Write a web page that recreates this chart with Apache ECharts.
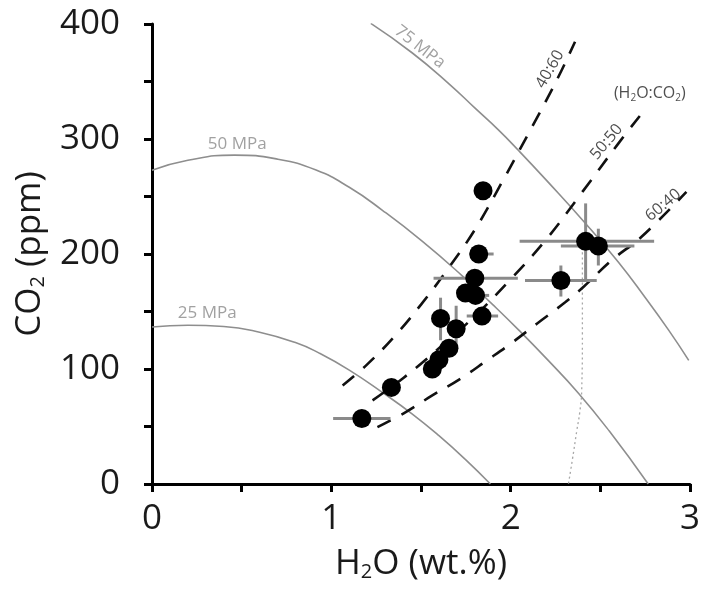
<!DOCTYPE html>
<html>
<head>
<meta charset="utf-8">
<title>CO2 vs H2O</title>
<script src="https://cdn.jsdelivr.net/npm/echarts@6/dist/echarts.min.js"></script>
<style>
  html, body { margin: 0; padding: 0; background: #fff; }
  #chart { width: 703px; height: 592px; }
</style>
</head>
<body>
<div id="chart"></div>
<script>
// Melt inclusion measurements: H2O (wt.%) and CO2 (ppm)
const h2o = [1.17, 1.335, 1.563, 1.60, 1.656, 1.609, 1.696, 1.748, 1.804, 1.80, 1.84, 1.822, 1.846, 2.28, 2.418, 2.489];
const co2 = [57, 84, 100, 108, 118, 144, 135, 166, 164, 179, 146, 200, 255, 177, 211, 207];
// Uncertainty ranges (null where no bar is drawn)
const h2oLow  = [1.01, null, null, null, null, 1.57, null, null, 1.74, 1.57, 1.755, 1.77, null, 2.08, 2.05, 2.28];
const h2oHigh = [1.33, null, null, null, null, 1.65, null, null, 1.88, 2.04, 1.93, 1.905, null, 2.48, 2.80, 2.69];
const co2Low  = [null, null, null, null, null, 125, 116, null, null, null, null, null, null, 163, 176, 190];
const co2High = [null, null, null, null, null, 162, 155, null, null, null, null, null, null, 190, 244, 222];

// Isobars (saturation pressure curves)
const iso25x = [0, 0.2, 0.4, 0.6, 0.8, 0.93, 1.1, 1.29, 1.45, 1.6, 1.75, 1.887];
const iso25y = [136.5, 138, 137, 132, 123, 114, 99, 79, 61, 42, 21, 0];
const iso50x = [0, 0.2, 0.46, 0.7, 0.915, 1.1, 1.285, 1.508, 1.73, 1.9, 2.044, 2.2, 2.378, 2.55, 2.767];
const iso50y = [272.8, 281.5, 286, 282.5, 273, 258, 238, 211, 181, 156, 134, 109, 79, 46, 0];
const iso75x = [1.22, 1.45, 1.656, 1.8, 1.933, 2.044, 2.2, 2.415, 2.6, 2.748, 2.88, 2.993];
const iso75y = [400.5, 375, 348, 327, 307.7, 290, 264, 227, 193, 162.6, 134, 107.5];

// Fluid composition isopleths (H2O:CO2)
const iso4060x = [1.063, 1.2, 1.35, 1.5, 1.65, 1.8, 1.95, 2.1, 2.25, 2.359];
const iso4060y = [85.7, 104, 128, 156, 187, 221, 262, 305, 349, 384.5];
const iso5050x = [1.23, 1.4, 1.6, 1.8, 2.0, 2.2, 2.4, 2.6, 2.72];
const iso5050y = [72.7, 92, 118, 146, 178, 213, 254, 296, 320];
const iso6040x = [1.257, 1.415, 1.563, 1.72, 1.868, 2.0, 2.146, 2.304, 2.41, 2.563, 2.73, 2.98];
const iso6040y = [49.4, 62.5, 77, 91.5, 107.5, 122, 139.4, 158, 172, 194.5, 215, 254];

// Dotted trend below the high-H2O group
const trendX = [2.40, 2.40, 2.40, 2.396, 2.385, 2.369, 2.345, 2.322];
const trendY = [210, 175, 130, 81, 62, 46.6, 22, 0];

// Tick values
const xTicks = [0, 1, 2, 3];
const yTicks = [0, 100, 200, 300, 400];

// Curve labels
const noteText = ['75 MPa', '50 MPa', '25 MPa', '40:60', '50:50', '60:40', '(H{s|2}O:CO{s|2})'];
const noteX = [1.494, 0.475, 0.308, 2.219, 2.535, 2.85, 2.776];
const noteY = [380, 295.5, 148.8, 360.7, 297.5, 242.4, 339.9];
const noteAngle = [-38, 0, 0, 60, 50, 40, 0];
const noteKind = ['isobar', 'isobar', 'isobar', 'ratio', 'ratio', 'ratio', 'ratio'];

const FONT = 'Open Sans';
const zip = (xs, ys) => xs.map((x, i) => [x, ys[i]]);

const chart = echarts.init(document.getElementById('chart'), null, { renderer: 'canvas' });

function curve(name, xs, ys, style, smooth) {
  return {
    name, type: 'line', data: zip(xs, ys), smooth: smooth, showSymbol: false,
    symbol: 'none', silent: true, z: style.z, lineStyle: style.line, animation: false
  };
}

const isobarStyle = { z: 1, line: { color: '#8e8e8e', width: 1.6 } };
const ratioStyle = { z: 2, line: { color: '#111', width: 2.6, type: [15, 12] } };
const trendStyle = { z: 1, line: { color: '#a8a8a8', width: 1.3, type: [2, 3] } };

const errorBars = {
  type: 'custom',
  z: 3,
  silent: true,
  animation: false,
  data: zip(h2o, co2),
  renderItem(params, api) {
    const i = params.dataIndex;
    const x = api.value(0), y = api.value(1);
    const kids = [];
    const st = { stroke: '#8a8a8a', lineWidth: 3 };
    if (h2oLow[i] != null) {
      const a = api.coord([h2oLow[i], y]), b = api.coord([h2oHigh[i], y]);
      kids.push({ type: 'line', shape: { x1: a[0], y1: a[1], x2: b[0], y2: b[1] }, style: st });
    }
    if (co2Low[i] != null) {
      const a = api.coord([x, co2Low[i]]), b = api.coord([x, co2High[i]]);
      kids.push({ type: 'line', shape: { x1: a[0], y1: a[1], x2: b[0], y2: b[1] }, style: st });
    }
    return { type: 'group', children: kids };
  }
};

const notes = {
  type: 'scatter',
  z: 5,
  silent: true,
  animation: false,
  symbolSize: 0,
  data: noteText.map((t, i) => ({
    value: [noteX[i], noteY[i]],
    label: {
      show: true,
      position: 'inside',
      formatter: t,
      rotate: noteAngle[i],
      fontFamily: FONT,
      fontSize: noteKind[i] === 'isobar' ? 17 : 16,
      color: noteKind[i] === 'isobar' ? '#8a8a8a' : '#222',
      rich: { s: { fontSize: 10, fontFamily: FONT, color: '#222', padding: [10, 0, 0, 0] } }
    }
  }))
};

const option = {
  backgroundColor: '#fff',
  animation: false,
  grid: { left: 152, right: 11, top: 24, bottom: 108, containLabel: false },
  xAxis: {
    type: 'value', min: 0, max: 3, interval: 0.5,
    name: 'H{sub|2}O (wt.%)', nameLocation: 'middle', nameGap: 62,
    nameTextStyle: {
      fontFamily: FONT, fontSize: 35, color: '#1a1a1a',
      rich: { sub: { fontFamily: FONT, fontSize: 20, color: '#1a1a1a', padding: [16, 0, 0, 0] } }
    },
    axisLine: { show: true, onZero: false, lineStyle: { color: '#000', width: 3 } },
    axisTick: { show: true, inside: false, length: 8, lineStyle: { color: '#000', width: 3 } },
    axisLabel: {
      margin: 18, fontFamily: FONT, fontSize: 35, color: '#1a1a1a',
      formatter: v => (xTicks.indexOf(v) >= 0 ? String(v) : '')
    },
    splitLine: { show: false }
  },
  yAxis: {
    type: 'value', min: 0, max: 400, interval: 50,
    name: 'CO{sub|2} (ppm)', nameLocation: 'middle', nameGap: 104, nameRotate: 90,
    nameTextStyle: {
      fontFamily: FONT, fontSize: 35, color: '#1a1a1a',
      rich: { sub: { fontFamily: FONT, fontSize: 20, color: '#1a1a1a', padding: [16, 0, 0, 0] } }
    },
    axisLine: { show: true, onZero: false, lineStyle: { color: '#000', width: 3 } },
    axisTick: { show: true, inside: false, length: 8, lineStyle: { color: '#000', width: 3 } },
    axisLabel: {
      margin: 32, fontFamily: FONT, fontSize: 35, color: '#1a1a1a',
      formatter: v => (yTicks.indexOf(v) >= 0 ? String(v) : '')
    },
    splitLine: { show: false }
  },
  series: [
    curve('25 MPa', iso25x, iso25y, isobarStyle, 0.5),
    curve('50 MPa', iso50x, iso50y, isobarStyle, 0.5),
    curve('75 MPa', iso75x, iso75y, isobarStyle, 0.5),
    curve('40:60', iso4060x, iso4060y, ratioStyle, 0.4),
    curve('50:50', iso5050x, iso5050y, ratioStyle, 0.4),
    curve('60:40', iso6040x, iso6040y, ratioStyle, 0.4),
    curve('trend', trendX, trendY, trendStyle, 0.5),
    errorBars,
    {
      name: 'samples', type: 'scatter', z: 4, silent: true, animation: false,
      symbol: 'circle', symbolSize: 19,
      itemStyle: { color: '#000', opacity: 1 },
      data: zip(h2o, co2)
    },
    notes
  ]
};

chart.setOption(option);
</script>
</body>
</html>
